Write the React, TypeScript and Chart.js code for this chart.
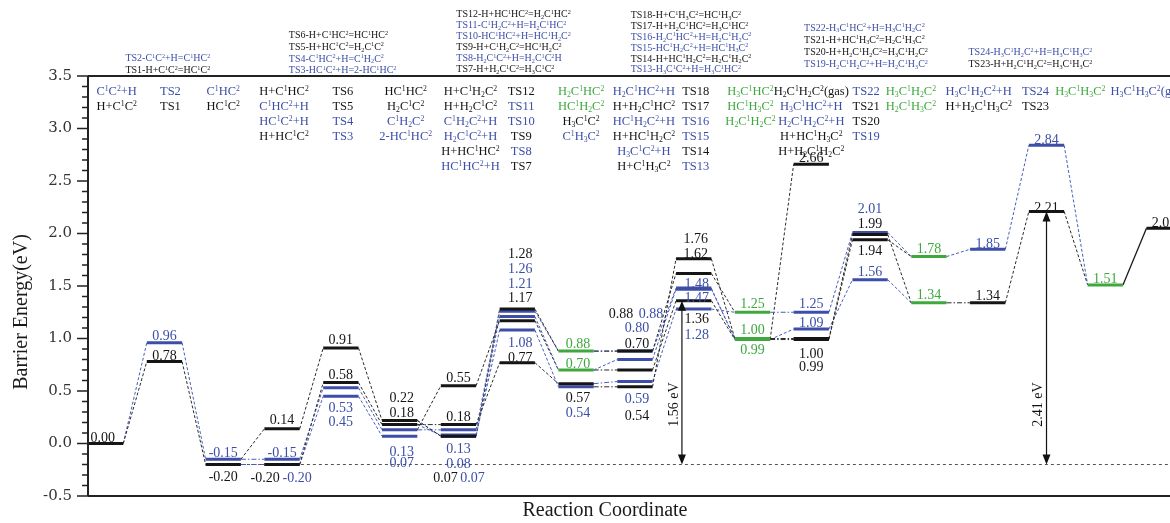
import React, { useEffect, useRef } from 'react';
import { Chart, registerables } from 'chart.js';

Chart.register(...registerables);

// ---------- data ----------
type S = 'k' | 'b' | 'g';
// [id, column (reaction step), energy eV, series]
const LEVELS: [string, number, number, S][] = [
  ['R0', 0, 0.0, 'k'],
  ['TS2', 1, 0.96, 'b'], ['TS1', 1, 0.78, 'k'],
  ['I2b', 2, -0.15, 'b'], ['I2k', 2, -0.2, 'k'],
  ['A1', 3, 0.14, 'k'], ['A2', 3, -0.15, 'b'], ['A3', 3, -0.2, 'b'], ['A4', 3, -0.2, 'k'],
  ['TS6', 4, 0.91, 'k'], ['TS5', 4, 0.58, 'k'], ['TS4', 4, 0.53, 'b'], ['TS3', 4, 0.45, 'b'],
  ['B1', 5, 0.22, 'k'], ['B2', 5, 0.18, 'k'], ['B3', 5, 0.13, 'b'], ['B4', 5, 0.07, 'b'],
  ['C1', 6, 0.55, 'k'], ['C2', 6, 0.18, 'k'], ['C3', 6, 0.13, 'b'], ['C4', 6, 0.08, 'b'], ['C5', 6, 0.07, 'k'], ['C6', 6, 0.07, 'b'],
  ['TS12', 7, 1.28, 'k'], ['TS11', 7, 1.26, 'b'], ['TS10', 7, 1.21, 'b'], ['TS9', 7, 1.17, 'k'], ['TS8', 7, 1.08, 'b'], ['TS7', 7, 0.77, 'k'],
  ['D1', 8, 0.88, 'g'], ['D2', 8, 0.7, 'g'], ['D3', 8, 0.57, 'k'], ['D4', 8, 0.54, 'b'],
  ['E1', 9, 0.88, 'b'], ['E2', 9, 0.88, 'k'], ['E3', 9, 0.8, 'b'], ['E4', 9, 0.7, 'k'], ['E5', 9, 0.59, 'b'], ['E6', 9, 0.54, 'k'],
  ['TS18', 10, 1.76, 'k'], ['TS17', 10, 1.62, 'k'], ['TS16', 10, 1.48, 'b'], ['TS15', 10, 1.47, 'b'], ['TS14', 10, 1.36, 'k'], ['TS13', 10, 1.28, 'b'],
  ['F1', 11, 1.25, 'g'], ['F2', 11, 1.0, 'g'], ['F3', 11, 0.99, 'g'],
  ['G1', 12, 2.66, 'k'], ['G2', 12, 1.25, 'b'], ['G3', 12, 1.09, 'b'], ['G4', 12, 1.0, 'k'], ['G5', 12, 0.99, 'k'],
  ['TS22', 13, 2.01, 'b'], ['TS21', 13, 1.99, 'k'], ['TS20', 13, 1.94, 'k'], ['TS19', 13, 1.56, 'b'],
  ['H1', 14, 1.78, 'g'], ['H2', 14, 1.34, 'g'],
  ['J1', 15, 1.85, 'b'], ['J2', 15, 1.34, 'k'],
  ['TS24', 16, 2.84, 'b'], ['TS23', 16, 2.21, 'k'],
  ['K1', 17, 1.51, 'g'],
  ['K2', 18, 2.05, 'k'],
];

// [from, to, style]
const LINKS: [string, string, string][] = [
  ['R0', 'TS1', 'k'], ['R0', 'TS2', 'b'],
  ['TS1', 'I2k', 'k'], ['TS2', 'I2b', 'b'],
  ['I2b', 'A2', 'b'], ['I2b', 'A1', 'k'], ['I2k', 'A3', 'b'], ['I2k', 'A4', 'k'],
  ['A1', 'TS6', 'k'], ['A4', 'TS5', 'k'], ['A2', 'TS4', 'b'], ['A3', 'TS3', 'b'],
  ['TS6', 'B1', 'k'], ['TS5', 'B2', 'k'], ['TS4', 'B3', 'b'], ['TS3', 'B4', 'b'],
  ['B1', 'C5', 'k'], ['B1', 'C6', 'b'], ['B2', 'C2', 'k'], ['B2', 'C4', 'b'], ['B3', 'C1', 'k'], ['B3', 'C3', 'b'],
  ['C1', 'TS9', 'k'], ['C2', 'TS7', 'k'], ['C3', 'TS11', 'b'], ['C4', 'TS8', 'b'], ['C5', 'TS12', 'k'], ['C6', 'TS10', 'b'],
  ['TS12', 'D1', 'k'], ['TS11', 'D1', 'b'], ['TS10', 'D2', 'b'], ['TS9', 'D2', 'k'], ['TS8', 'D4', 'b'], ['TS7', 'D3', 'k'],
  ['D1', 'E2', 'k'], ['D1', 'E1', 'b'], ['D2', 'E3', 'b'], ['D2', 'E4', 'k'], ['D3', 'E5', 'b'], ['D4', 'E6', 'k'],
  ['E6', 'TS18', 'k'], ['E2', 'TS17', 'k'], ['E1', 'TS16', 'b'], ['E3', 'TS15', 'b'], ['E4', 'TS14', 'k'], ['E5', 'TS13', 'b'],
  ['TS18', 'F2', 'k'], ['TS17', 'F1', 'k'], ['TS16', 'F3', 'b'], ['TS15', 'F2', 'b'], ['TS14', 'F3', 'k'], ['TS13', 'F1', 'b'],
  ['F1', 'G2', 'b'], ['F2', 'G4', 'k'], ['F3', 'G5', 'k'], ['F3', 'G3', 'b'], ['F3', 'G1', 'k'],
  ['G2', 'TS22', 'b'], ['G4', 'TS21', 'k'], ['G5', 'TS20', 'k'], ['G3', 'TS19', 'b'],
  ['TS22', 'H1', 'b'], ['TS20', 'H1', 'k'], ['TS21', 'H2', 'k'], ['TS19', 'H2', 'b'],
  ['H1', 'J1', 'b'], ['H2', 'J2', 'k'],
  ['J1', 'TS24', 'b'], ['J2', 'TS23', 'k'],
  ['TS24', 'K1', 'b'], ['TS23', 'K1', 'k'],
  ['K1', 'K2', 's'],
];

// species / TS names per column (top rows inside plot)
const SPECIES: [string, S][][] = [
  [['C¹C²+H', 'b'], ['H+C¹C²', 'k']],
  [['TS2', 'b'], ['TS1', 'k']],
  [['C¹HC²', 'b'], ['HC¹C²', 'k']],
  [['H+C¹HC²', 'k'], ['C¹HC²+H', 'b'], ['HC¹C²+H', 'b'], ['H+HC¹C²', 'k']],
  [['TS6', 'k'], ['TS5', 'k'], ['TS4', 'b'], ['TS3', 'b']],
  [['HC¹HC²', 'k'], ['H₂C¹C²', 'k'], ['C¹H₂C²', 'b'], ['2-HC¹HC²', 'b']],
  [['H+C¹H₂C²', 'k'], ['H+H₂C¹C²', 'k'], ['C¹H₂C²+H', 'b'], ['H₂C¹C²+H', 'b'], ['H+HC¹HC²', 'k'], ['HC¹HC²+H', 'b']],
  [['TS12', 'k'], ['TS11', 'b'], ['TS10', 'b'], ['TS9', 'k'], ['TS8', 'b'], ['TS7', 'k']],
  [['H₂C¹HC²', 'g'], ['HC¹H₂C²', 'g'], ['H₃C¹C²', 'k'], ['C¹H₃C²', 'b']],
  [['H₂C¹HC²+H', 'b'], ['H+H₂C¹HC²', 'k'], ['HC¹H₂C²+H', 'b'], ['H+HC¹H₂C²', 'k'], ['H₃C¹C²+H', 'b'], ['H+C¹H₃C²', 'k']],
  [['TS18', 'k'], ['TS17', 'k'], ['TS16', 'b'], ['TS15', 'b'], ['TS14', 'k'], ['TS13', 'b']],
  [['H₃C¹HC²', 'g'], ['HC¹H₃C²', 'g'], ['H₂C¹H₂C²', 'g']],
  [['H₂C¹H₂C²(gas)', 'k'], ['H₃C¹HC²+H', 'b'], ['H₂C¹H₂C²+H', 'b'], ['H+HC¹H₃C²', 'k'], ['H+H₂C¹H₂C²', 'k']],
  [['TS22', 'b'], ['TS21', 'k'], ['TS20', 'k'], ['TS19', 'b']],
  [['H₃C¹H₂C²', 'g'], ['H₂C¹H₃C²', 'g']],
  [['H₃C¹H₂C²+H', 'b'], ['H+H₂C¹H₃C²', 'k']],
  [['TS24', 'b'], ['TS23', 'k']],
  [['H₃C¹H₃C²', 'g']],
  [['H₃C¹H₃C²(gas)', 'b']],
];

// reaction equations above the plot
const TS_GROUPS: [string, S][][] = [
  [['TS2-C¹C²+H=C¹HC²', 'b'], ['TS1-H+C¹C²=HC¹C²', 'k']],
  [['TS6-H+C¹HC²=HC¹HC²', 'k'], ['TS5-H+HC¹C²=H₂C¹C²', 'k'], ['TS4-C¹HC²+H=C¹H₂C²', 'b'], ['TS3-HC¹C²+H=2-HC¹HC²', 'b']],
  [['TS12-H+HC¹HC²=H₂C¹HC²', 'k'], ['TS11-C¹H₂C²+H=H₂C¹HC²', 'b'], ['TS10-HC¹HC²+H=HC¹H₂C²', 'b'], ['TS9-H+C¹H₂C²=HC¹H₂C²', 'k'], ['TS8-H₂C¹C²+H=H₂C¹C²H', 'b'], ['TS7-H+H₂C¹C²=H₃C¹C²', 'k']],
  [['TS18-H+C¹H₃C²=HC¹H₃C²', 'k'], ['TS17-H+H₂C¹HC²=H₃C¹HC²', 'k'], ['TS16-H₂C¹HC²+H=H₂C¹H₂C²', 'b'], ['TS15-HC¹H₂C²+H=HC¹H₃C²', 'b'], ['TS14-H+HC¹H₂C²=H₂C¹H₂C²', 'k'], ['TS13-H₃C¹C²+H=H₃C¹HC²', 'b']],
  [['TS22-H₃C¹HC²+H=H₃C¹H₂C²', 'b'], ['TS21-H+HC¹H₃C²=H₂C¹H₃C²', 'k'], ['TS20-H+H₂C¹H₂C²=H₃C¹H₂C²', 'k'], ['TS19-H₂C¹H₂C²+H=H₂C¹H₃C²', 'b']],
  [['TS24-H₃C¹H₂C²+H=H₃C¹H₃C²', 'b'], ['TS23-H+H₂C¹H₂C²=H₃C¹H₃C²', 'k']],
];

// barrier arrows: [column, from energy, to energy, label]
const ARROWS: [number, number, number, string][] = [
  [9.8, -0.2, 1.36, '1.56 eV'],
  [16, -0.2, 2.21, '2.41 eV'],
];
const BASELINE_E = -0.2;
const Y_TICKS_STEP = 0.5;

// ---------- layout / style ----------
const COLORS: Record<string, string> = { k: '#151515', b: '#3c4ea8', g: '#3ea83e' };
const LINK_COLORS: Record<string, string> = { k: '#2a2a2a', b: '#4a5cb8', s: '#1a1a1a' };
const FONT = '"Liberation Serif", "Times New Roman", serif';
const HALF = 0.3;
// value label offsets [id, dx px, dy px from its level]
const VALUE_POS: [string, number, number][] = [
  ['R0', -3, -6.5],
  ['TS1', 0, -6], ['TS2', 0, -7],
  ['I2k', 0, 12], ['I2b', 0, -7],
  ['A1', 0, -10], ['A2', 0, -7], ['A3', 15, 12.5], ['A4', -17, 12.5],
  ['TS6', 0, -9], ['TS5', 0, -8], ['TS4', 0, 19], ['TS3', 0, 25],
  ['B1', 2, -23], ['B2', 2, -12], ['B3', 2, 21], ['B4', 2, 26],
  ['C1', 0, -9], ['C2', 0, -8], ['C3', 0, 18], ['C4', 0, 28], ['C5', -13, 41], ['C6', 14, 41],
  ['TS12', 3, -56], ['TS11', 3, -43], ['TS10', 3, -33], ['TS9', 3, -23], ['TS8', 3, 12], ['TS7', 3, -5],
  ['D1', 2, -8], ['D2', 2, -7], ['D3', 2, 14], ['D4', 2, 25],
  ['E1', 16, -38], ['E2', -14, -38], ['E3', 2, -32.5], ['E4', 2, -27], ['E5', 2, 17], ['E6', 2, 28],
  ['TS18', 2, -20], ['TS17', 2, -20], ['TS16', 3, -5], ['TS15', 3, 8], ['TS14', 3, 18], ['TS13', 3, 25],
  ['F1', 0, -9], ['F2', 0, -9.5], ['F3', 0, 10],
  ['G1', 0, -7], ['G2', 0, -9], ['G3', 0, -7], ['G4', 0, 14.5], ['G5', 0, 27],
  ['TS22', 0, -24], ['TS21', 0, -11.5], ['TS20', 0, 10], ['TS19', 0, -8],
  ['H1', 0, -8.6], ['H2', 0, -9],
  ['J1', 0, -6], ['J2', 0, -8],
  ['TS24', 0, -6], ['TS23', 0, -4.5],
  ['K1', 0, -7],
  ['K2', 0, -6],
];
const SPECIES_DX = [11, 6, 0, 2, 2, 6, 12, 4, 5, 9, 2, -2, 0, -4, -18, -9, -11, -25, -16];
// [anchor column, left dx px, bottom line y px, line height]
const TS_LAYOUT: [number, number, number, number][] = [
  [1, -39, 70, 12],
  [4, -52, 70, 11.7],
  [7, -61, 69, 11],
  [10, -63, 69, 10.8],
  [13, -66, 64, 12.3],
  [16, -78, 64, 12],
];

// ---------- rich text helper ----------
const SUP: Record<string, string> = { '¹': '1', '²': '2', '³': '3' };
const SUB: Record<string, string> = { '₁': '1', '₂': '2', '₃': '3' };

function drawRich(ctx: CanvasRenderingContext2D, text: string, x: number, y: number, size: number, color: string, align: 'left' | 'center' | 'right') {
  const segs: { t: string; k: number; w: number }[] = [];
  for (const ch of Array.from(text)) {
    let k = 0;
    let c = ch;
    if (SUP[ch]) { k = 1; c = SUP[ch]; } else if (SUB[ch]) { k = -1; c = SUB[ch]; }
    const last = segs[segs.length - 1];
    if (last && last.k === k) last.t += c; else segs.push({ t: c, k, w: 0 });
  }
  const small = size * 0.62;
  let total = 0;
  for (const s of segs) {
    ctx.font = `${s.k ? small : size}px ${FONT}`;
    s.w = ctx.measureText(s.t).width;
    total += s.w;
  }
  let cx = align === 'center' ? x - total / 2 : align === 'right' ? x - total : x;
  const base = y + size * 0.34;
  ctx.fillStyle = color;
  ctx.textAlign = 'left';
  ctx.textBaseline = 'alphabetic';
  for (const s of segs) {
    ctx.font = `${s.k ? small : size}px ${FONT}`;
    const dy = s.k === 1 ? -size * 0.36 : s.k === -1 ? size * 0.16 : 0;
    ctx.fillText(s.t, cx, base + dy);
    cx += s.w;
  }
}

const overlayPlugin = {
  id: 'overlay',
  afterDatasetsDraw(chart: any) {
    const ctx: CanvasRenderingContext2D = chart.ctx;
    const xs = chart.scales.x;
    const ys = chart.scales.y;
    const ca = chart.chartArea;
    const levelMap = new Map(LEVELS.map((l) => [l[0], l]));
    ctx.save();

    // frame
    ctx.strokeStyle = '#222';
    ctx.lineWidth = 2;
    ctx.beginPath();
    ctx.moveTo(ca.left, ca.top); ctx.lineTo(ca.right, ca.top);
    ctx.moveTo(ca.left, ca.top); ctx.lineTo(ca.left, ca.bottom);
    ctx.moveTo(ca.left, ca.bottom); ctx.lineTo(ca.right, ca.bottom);
    ctx.stroke();

    // major + minor ticks
    ctx.lineWidth = 1.5;
    ctx.beginPath();
    for (let i = Math.round(ys.min * 10); i <= Math.round(ys.max * 10); i++) {
      const py = ys.getPixelForValue(i / 10);
      const major = i % 5 === 0;
      ctx.moveTo(ca.left - (major ? 11 : 6), py);
      ctx.lineTo(ca.left, py);
    }
    ctx.stroke();

    // axis titles
    ctx.fillStyle = '#1a1a1a';
    ctx.font = `20px ${FONT}`;
    ctx.textAlign = 'center';
    ctx.textBaseline = 'middle';
    ctx.fillText('Reaction Coordinate', 605, ca.bottom + 15);
    ctx.save();
    ctx.translate(22, 312);
    ctx.rotate(-Math.PI / 2);
    ctx.fillText('Barrier Energy(eV)', 0, 0);
    ctx.restore();

    // value labels
    for (const [id, dx, dy] of VALUE_POS) {
      const l = levelMap.get(id);
      if (!l) continue;
      const px = xs.getPixelForValue(l[1]) + dx;
      const py = ys.getPixelForValue(l[2]) + dy;
      drawRich(ctx, l[2].toFixed(2), px, py, 14, COLORS[l[3]], 'center');
    }

    // species names
    SPECIES.forEach((rows, col) => {
      const px = xs.getPixelForValue(col) + SPECIES_DX[col];
      rows.forEach(([t, s], r) => {
        drawRich(ctx, t, px, ca.top + 15 + r * 15, 12.5, COLORS[s], 'center');
      });
    });

    // reaction equations above the frame
    TS_GROUPS.forEach((rows, g) => {
      const [col, dx, bottom, lh] = TS_LAYOUT[g];
      const px = xs.getPixelForValue(col) + dx;
      rows.forEach(([t, s], r) => {
        const py = bottom - (rows.length - 1 - r) * lh;
        drawRich(ctx, t, px, py, 10, COLORS[s], 'left');
      });
    });

    // arrows
    ctx.strokeStyle = '#111';
    ctx.fillStyle = '#111';
    ctx.lineWidth = 1.2;
    for (const [col, e0, e1, label] of ARROWS) {
      const px = xs.getPixelForValue(col);
      const y0 = ys.getPixelForValue(e0);
      const y1 = ys.getPixelForValue(e1);
      ctx.beginPath();
      ctx.moveTo(px, y0 - 8); ctx.lineTo(px, y1 + 8);
      ctx.stroke();
      ctx.beginPath();
      ctx.moveTo(px, y1); ctx.lineTo(px - 4, y1 + 10); ctx.lineTo(px + 4, y1 + 10); ctx.closePath();
      ctx.moveTo(px, y0); ctx.lineTo(px - 4, y0 - 10); ctx.lineTo(px + 4, y0 - 10); ctx.closePath();
      ctx.fill();
      ctx.save();
      ctx.translate(px - 8, ys.getPixelForValue(0.37));
      ctx.rotate(-Math.PI / 2);
      ctx.font = `14px ${FONT}`;
      ctx.textAlign = 'center';
      ctx.textBaseline = 'middle';
      ctx.fillStyle = '#111';
      ctx.fillText(label, 0, 0);
      ctx.restore();
    }
    ctx.restore();
  },
};

export default function App() {
  const ref = useRef<HTMLCanvasElement | null>(null);
  useEffect(() => {
    if (!ref.current) return;
    const levelMap = new Map(LEVELS.map((l) => [l[0], l]));
    const datasets: any[] = [];
    LEVELS.forEach(([, col, e, s]) => {
      datasets.push({
        data: [{ x: col - HALF, y: e }, { x: col + HALF, y: e }],
        borderColor: COLORS[s],
        borderWidth: 3,
        borderCapStyle: 'butt',
        pointRadius: 0,
        fill: false,
        order: s === 'b' ? 1 : 0,
      });
    });
    LINKS.forEach(([a, b, st]) => {
      const A = levelMap.get(a)!;
      const B = levelMap.get(b)!;
      const flat = Math.abs(A[2] - B[2]) < 0.03;
      datasets.push({
        data: [{ x: A[1] + HALF, y: A[2] }, { x: B[1] - HALF, y: B[2] }],
        borderColor: LINK_COLORS[st],
        borderWidth: st === 's' ? 1.3 : 1,
        borderDash: st === 's' ? [] : flat ? [5, 2, 1.5, 2] : [3, 2],
        pointRadius: 0,
        fill: false,
        order: 2,
      });
    });
    datasets.push({
      data: [{ x: 2 + HALF, y: BASELINE_E }, { x: 18.5, y: BASELINE_E }],
      borderColor: '#555',
      borderWidth: 1,
      borderDash: [3, 3],
      pointRadius: 0,
      fill: false,
      order: 3,
    });

    const chart = new Chart(ref.current, {
      type: 'line',
      data: { datasets },
      options: {
        animation: false,
        responsive: false,
        layout: { padding: { top: 76, bottom: 27, left: 0, right: 0 } },
        scales: {
          x: { type: 'linear', min: -HALF, max: 18.1, display: false },
          y: {
            min: -0.5,
            max: 3.5,
            ticks: {
              stepSize: Y_TICKS_STEP,
              color: '#333',
              padding: 6,
              font: { family: '"DejaVu Serif", serif', size: 15 },
              callback: (v: any) => Number(v).toFixed(1),
            },
            grid: { display: false, drawTicks: true, tickLength: 10 },
            border: { display: false },
            afterFit: (s: any) => { s.width = 88; },
          },
        },
        plugins: { legend: { display: false }, tooltip: { enabled: false } },
      } as any,
      plugins: [overlayPlugin],
    });
    return () => chart.destroy();
  }, []);
  return (
    <div style={{ position: 'fixed', left: 0, top: 0, width: 1170, height: 523, background: '#fff' }}>
      <canvas ref={ref} width={1170} height={523} style={{ display: 'block' }} />
    </div>
  );
}
